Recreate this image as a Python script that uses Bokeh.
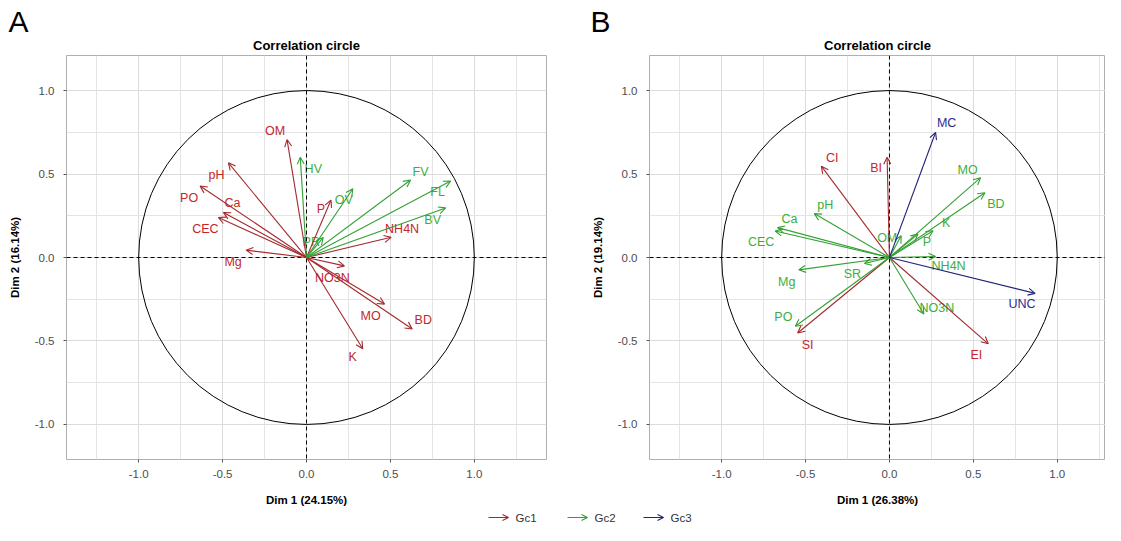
from bokeh.plotting import figure
from bokeh.models import (ColumnDataSource, Arrow, OpenHead, Span, FixedTicker,
                          PrintfTickFormatter, Range1d)
from bokeh.layouts import column, row
from bokeh.embed import file_html
from bokeh.resources import INLINE
from bokeh.core.properties import value

# ---------------- data ----------------
groups = ["Gc1", "Gc2", "Gc3"]
panel_letters = ["A", "B"]

# Panel A
a_vars = ["OM", "pH", "PO", "Ca", "CEC", "Mg", "P", "NH4N", "NO3N", "MO", "BD", "K",
          "HV", "OV", "FV", "FL", "BV", "PR"]
a_dim1 = [-0.116, -0.465, -0.634, -0.495, -0.525, -0.360, 0.146, 0.504, 0.226, 0.465, 0.630, 0.335,
          -0.037, 0.276, 0.620, 0.859, 0.829, 0.100]
a_dim2 = [0.706, 0.567, 0.428, 0.270, 0.240, 0.044, 0.344, 0.121, -0.050, -0.279, -0.428, -0.547,
          0.601, 0.412, 0.464, 0.458, 0.297, 0.120]
a_group = ["Gc1"] * 12 + ["Gc2"] * 6

# Panel B
b_vars = ["CI", "BI", "SI", "EI",
          "MO", "BD", "K", "P", "OM", "NH4N", "NO3N", "SR", "Mg", "PO", "CEC", "Ca", "pH",
          "MC", "UNC"]
b_dim1 = [-0.406, -0.014, -0.547, 0.589,
          0.543, 0.569, 0.260, 0.170, 0.070, 0.275, 0.205, -0.149, -0.541, -0.561, -0.681, -0.667, -0.448,
          0.275, 0.868]
b_dim2 = [0.547, 0.601, -0.452, -0.517,
          0.478, 0.388, 0.160, 0.140, 0.130, 0.006, -0.338, -0.036, -0.074, -0.412, 0.159, 0.179, 0.263,
          0.750, -0.215]
b_group = ["Gc1"] * 4 + ["Gc2"] * 13 + ["Gc3"] * 2

major_ticks = [-1.0, -0.5, 0.0, 0.5, 1.0]
minor_ticks = [-1.25, -0.75, -0.25, 0.25, 0.75, 1.25]

# ---------------- layout / styles (label repel offsets in pixels) ----------------
a_ldx = [-12, -12, -11, 9, -13, -13, -10, 11, -12, -14, 11, -10, 13, -9, 10, -13, -13, -12]
a_ldy = [-9, 12, 12, -9, 12, 12, 9, -8, 12, 12, -9, 8, 12, 11, -8, 11, 12, 5]
b_ldx = [11, -11, 10, -12,
         -13, 11, 13, 9, -14, 13, 13, -12, -12, -12, -14, 12, 11,
         11, -13]
b_ldy = [-8, 11, 12, 11,
         -8, 11, -8, 8, 2, 10, -6, 10, 12, -9, 11, -9, -9,
         -9, 11]

ARROW_COL = {"Gc1": "#A3292D", "Gc2": "#33A033", "Gc3": "#22227A"}
TEXT_COL = {"Gc1": "#C4262C", "Gc2": "#3BAF3B", "Gc3": "#2B2B90"}
FONT = "Liberation Sans"
PX = 167.8
HEADER_H = 32
PANEL_H = 477
BORDER_TOP = 21
BORDER_BOTTOM = 50


def make_panel(xlab, ylab, names, d1, d2, grp, ldx, ldy,
               width, border_left, border_right, x_end):
    p = figure(width=width, height=PANEL_H, output_backend="svg", toolbar_location=None,
               x_range=Range1d(-1.43, x_end), y_range=Range1d(-1.21, 1.21),
               min_border_left=border_left, min_border_right=border_right,
               min_border_top=BORDER_TOP, min_border_bottom=BORDER_BOTTOM,
               title="Correlation circle")
    p.title.align = "center"
    p.title.standoff = 6
    p.title.text_font = FONT
    p.title.text_font_size = "13px"
    p.title.text_font_style = "bold"
    p.title.text_color = "black"
    p.outline_line_color = "#AFAFAF"
    p.outline_line_width = 1
    p.background_fill_color = "white"
    p.border_fill_color = "white"

    for ax in (p.xaxis[0], p.yaxis[0]):
        ax.ticker = FixedTicker(ticks=major_ticks, minor_ticks=minor_ticks)
        ax.formatter = PrintfTickFormatter(format="%.1f")
        ax.axis_line_color = None
        ax.major_tick_line_color = "#555555"
        ax.major_tick_out = 3
        ax.major_tick_in = 0
        ax.minor_tick_line_color = None
        ax.major_label_text_font = FONT
        ax.major_label_text_font_size = "11.5px"
        ax.major_label_text_color = "#4D4D4D"
        ax.axis_label_text_font = FONT
        ax.axis_label_text_font_size = "11.5px"
        ax.axis_label_text_font_style = "bold"
        ax.axis_label_text_color = "black"
    p.xaxis.major_label_standoff = 6
    p.xaxis.axis_label_standoff = 13
    p.yaxis.major_label_standoff = 8
    p.yaxis.axis_label_standoff = 11
    p.xaxis.axis_label = xlab
    p.yaxis.axis_label = ylab
    for g in (p.xgrid[0], p.ygrid[0]):
        g.grid_line_color = "#DCDCDC"
        g.minor_grid_line_color = "#E4E4E4"

    p.ellipse(x=0, y=0, width=2, height=2, fill_color=None, line_color="black", line_width=1)
    p.add_layout(Span(location=0, dimension="height", line_dash="4 3", line_color="black", line_width=1))
    p.add_layout(Span(location=0, dimension="width", line_dash="4 3", line_color="black", line_width=1))

    for gname in groups:
        idx = [i for i, g in enumerate(grp) if g == gname]
        if not idx:
            continue
        src = ColumnDataSource(dict(x=[d1[i] for i in idx], y=[d2[i] for i in idx]))
        c = ARROW_COL[gname]
        p.add_layout(Arrow(end=OpenHead(size=7, line_color=c, line_width=1.1),
                           x_start=0, y_start=0, x_end="x", y_end="y", source=src,
                           line_color=c, line_width=1.1))

    lsrc = ColumnDataSource(dict(x=d1, y=d2, name=names, dx=ldx, dy=ldy,
                                 col=[TEXT_COL[g] for g in grp]))
    p.text(x="x", y="y", text="name", x_offset="dx", y_offset="dy", source=lsrc,
           text_color="col", text_font=value(FONT), text_font_size=value("12.5px"),
           text_align="center", text_baseline="middle")
    return p


def strip(h):
    f = figure(width=1105, height=h, output_backend="svg", toolbar_location=None,
               x_range=Range1d(0, 1105), y_range=Range1d(0, h),
               min_border=0, min_border_left=0, min_border_right=0,
               min_border_top=0, min_border_bottom=0)
    f.axis.visible = False
    f.grid.visible = False
    f.outline_line_color = None
    return f


# header strip with the panel letters
header = strip(HEADER_H)
header.text(x=[8, 590], y=[11, 11], text=panel_letters, text_color="black",
            text_font=value(FONT), text_font_size=value("30px"),
            text_align="left", text_baseline="middle")

pA = make_panel("Dim 1 (24.15%)", "Dim 2 (16.14%)", a_vars, a_dim1, a_dim2, a_group,
                a_ldx, a_ldy, width=585, border_left=66, border_right=39, x_end=1.43)
pB = make_panel("Dim 1 (26.38%)", "Dim 2 (19.14%)", b_vars, b_dim1, b_dim2, b_group,
                b_ldx, b_ldy, width=520, border_left=64, border_right=0,
                x_end=-1.43 + 456 / PX)

# legend strip
LEG_H = 525 - HEADER_H - PANEL_H
leg = strip(LEG_H)
leg_x = [488, 567, 643]
LEG_Y = 8
for gname, lx in zip(groups, leg_x):
    c = ARROW_COL[gname]
    leg.add_layout(Arrow(end=OpenHead(size=6, line_color=c, line_width=1.1),
                         x_start=lx, y_start=LEG_Y, x_end=lx + 20, y_end=LEG_Y,
                         line_color=c, line_width=1.1))
leg.text(x=[lx + 27 for lx in leg_x], y=[LEG_Y] * 3, text=groups, text_color="#333333",
         text_font=value(FONT), text_font_size=value("11.5px"),
         text_align="left", text_baseline="middle")

layout = column(header, row(pA, pB), leg)
open("out.html", "w").write(file_html(layout, INLINE))
